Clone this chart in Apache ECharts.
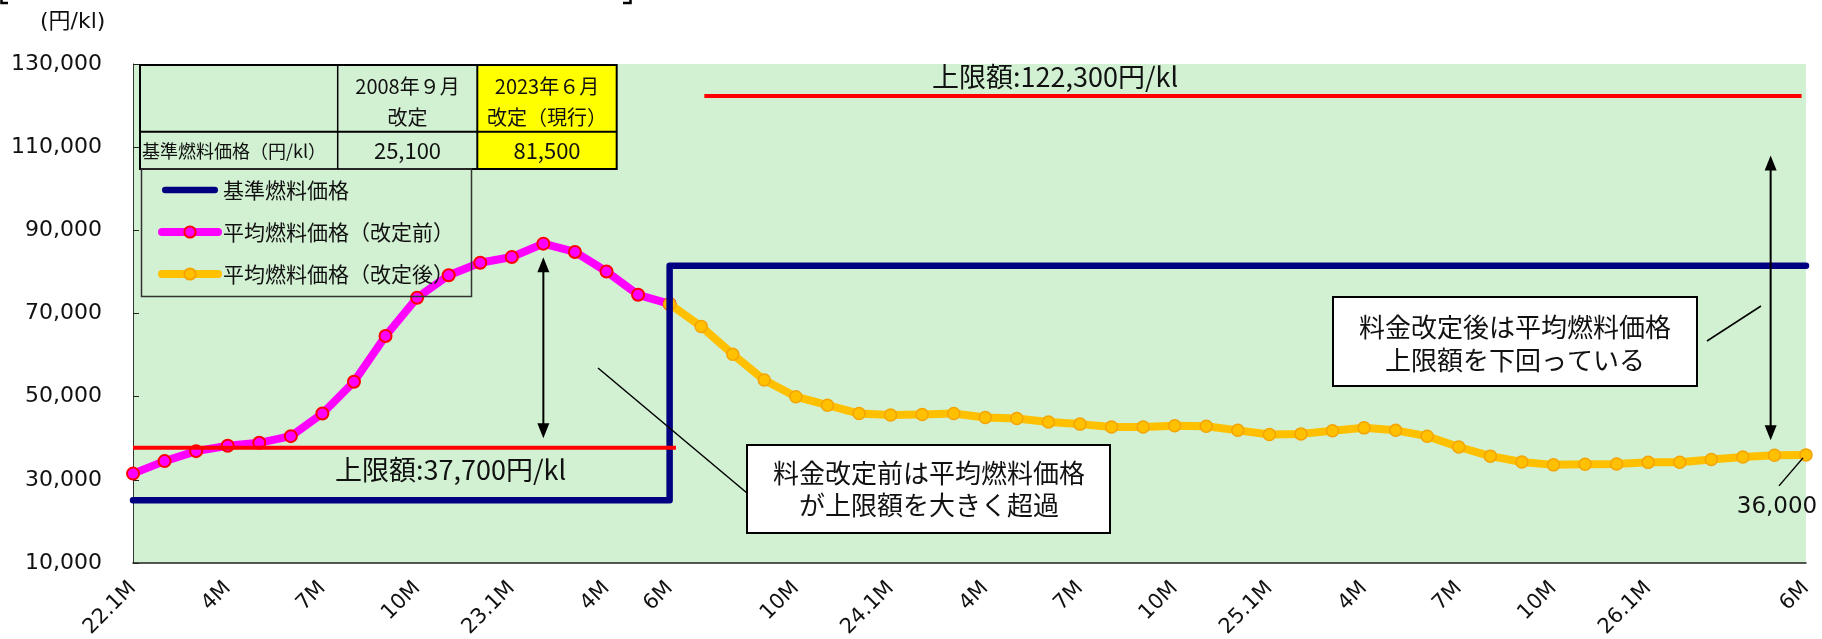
<!DOCTYPE html>
<html>
<head>
<meta charset="utf-8">
<script src="https://cdn.jsdelivr.net/npm/echarts@6/dist/echarts.min.js"></script>
<style>
  html, body { margin: 0; padding: 0; background: #ffffff; }
  #chart { width: 1822px; height: 639px; }
</style>
</head>
<body>
<div id="chart"></div>
<script>
// Month labels, Jan 2022 – Jun 2026 (blank = unlabeled month)
const monthLabels = [
  '22.1M', '', '', '4M', '', '', '7M', '', '', '10M', '', '',
  '23.1M', '', '', '4M', '', '6M', '', '', '', '10M', '', '',
  '24.1M', '', '', '4M', '', '', '7M', '', '', '10M', '', '',
  '25.1M', '', '', '4M', '', '', '7M', '', '', '10M', '', '',
  '26.1M', '', '', '', '', '6M'
];

// Average fuel price before the tariff revision (Jan 2022 – Jun 2023), 円/kl
const avgBefore = [
  31500, 34500, 36900, 38200, 38900, 40500, 45950, 53600, 64600, 73800, 79200, 82200,
  83600, 86800, 84800, 80100, 74500, 72300
];

// Average fuel price after the tariff revision (Jun 2023 – Jun 2026), 円/kl
const avgAfter = [
  72300, 66900, 60200, 54000, 50000, 47950, 45950,
  45600, 45700, 45950, 45000, 44750, 43900, 43400, 42700, 42700, 43000, 42900, 41900,
  40900, 41050, 41800, 42500, 41900, 40500, 37900, 35700, 34300, 33600, 33750, 33800,
  34200, 34250, 34900, 35500, 35900, 36000
];

// Month index of the June 2023 revision
const revisionIndex = 17;

// Reference fuel price: 2008/9 revision and 2023/6 revision (current)
const basePrices = [25100, 81500];
const revisionTitles = ['2008年９月\n改定', '2023年６月\n改定（現行）'];

// Upper limits of the fuel cost adjustment, before and after the revision
const capPrices = [37700, 122300];
const capSpans = [[0, 17.2], [18.1, 52.86]];

const yTicks = { min: 10000, max: 130000, step: 20000 };

const JP = '"Noto Sans CJK JP", sans-serif';
const NUM = '"DejaVu Sans", "Noto Sans CJK JP", sans-serif';
const fmt = v => Number(v).toLocaleString('en-US');

const lastIdx = monthLabels.length - 1;
const basePriceSteps = [
  [0, basePrices[0]], [revisionIndex, basePrices[0]],
  [revisionIndex, basePrices[1]], [lastIdx, basePrices[1]]
];

const chart = echarts.init(document.getElementById('chart'), null, { renderer: 'canvas' });

const lineSeries = (name, data, color, mark, z) => ({
  name, type: 'line', data, z,
  symbol: 'circle', symbolSize: 12, showSymbol: true,
  lineStyle: { color, width: 8, cap: 'round', join: 'round' },
  itemStyle: { color, borderColor: mark, borderWidth: mark === '#FF0000' ? 2 : 1.5 },
  emphasis: { disabled: true }, silent: true
});

const capSeries = (i) => ({
  name: '上限額' + i, type: 'line', z: 6, silent: true, symbol: 'none',
  data: [[capSpans[i][0], capPrices[i]], [capSpans[i][1], capPrices[i]]],
  lineStyle: { color: '#FF0000', width: 4 },
  emphasis: { disabled: true }
});

chart.setOption({
  animation: false,
  grid: {
    left: 133, right: 16, top: 64, bottom: 76,
    show: true, backgroundColor: '#D2F0D2', borderWidth: 0,
    containLabel: false, outerBoundsMode: 'none'
  },
  xAxis: {
    type: 'value', min: 0, max: lastIdx, interval: 1,
    axisLine: { onZero: false, lineStyle: { color: '#222', width: 1.5 } },
    axisTick: { show: false },
    splitLine: { show: false },
    axisLabel: {
      rotate: 45, margin: 22, fontSize: 21, fontFamily: NUM, color: '#111',
      showMinLabel: true, showMaxLabel: true,
      formatter: v => monthLabels[Math.round(v)] || ''
    }
  },
  yAxis: {
    type: 'value', min: yTicks.min, max: yTicks.max, interval: yTicks.step,
    axisLine: { show: true, onZero: false, lineStyle: { color: '#333', width: 1 } },
    axisTick: { show: true, inside: true, length: 6, lineStyle: { color: '#222' } },
    splitLine: { show: false },
    axisLabel: { margin: 31, fontSize: 22, fontFamily: NUM, color: '#111', formatter: fmt }
  },
  legend: {
    orient: 'vertical', left: 158, top: 179, padding: 0,
    itemWidth: 56, itemHeight: 14, itemGap: 20, selectedMode: false,
    data: [
      { name: '基準燃料価格', icon: 'path://M3.25,0H52.75A3.25,3.25,0,0,1,52.75,6.5H3.25A3.25,3.25,0,0,1,3.25,0Z' },
      '平均燃料価格（改定前）',
      '平均燃料価格（改定後）'
    ],
    lineStyle: { width: 'inherit' },
    textStyle: { fontSize: 21, fontFamily: JP, color: '#111', lineHeight: 22 }
  },
  series: [
    lineSeries('平均燃料価格（改定前）', avgBefore.map((v, i) => [i, v]), '#FF00FF', '#FF0000', 2),
    lineSeries('平均燃料価格（改定後）', avgAfter.map((v, i) => [i + revisionIndex, v]), '#FFC000', '#F5A300', 3),
    {
      name: '基準燃料価格', type: 'line', data: basePriceSteps, z: 4, silent: true,
      symbol: 'none',
      lineStyle: { color: '#000080', width: 6.5, join: 'round', cap: 'round' },
      itemStyle: { color: '#000080' },
      emphasis: { disabled: true }
    },
    capSeries(0),
    capSeries(1)
  ]
});

// ---- annotations ----
const px = (x, y) => chart.convertToPixel({ gridIndex: 0 }, [x, y]);

function vArrow(x, yTop, yBot) {
  const [cx, t] = px(x, yTop);
  const b = px(x, yBot)[1];
  const h = 15, w = 6;
  return [
    { type: 'line', z: 50, shape: { x1: cx, y1: t + h - 2, x2: cx, y2: b - h + 2 },
      style: { stroke: '#000', lineWidth: 2 } },
    { type: 'polygon', z: 50, shape: { points: [[cx, t], [cx - w, t + h], [cx + w, t + h]] },
      style: { fill: '#000' } },
    { type: 'polygon', z: 50, shape: { points: [[cx, b], [cx - w, b - h], [cx + w, b - h]] },
      style: { fill: '#000' } }
  ];
}

function text(str, x, y, size, family, align, lineHeight) {
  return {
    type: 'text', z: 60,
    style: {
      text: str, x, y, fill: '#111',
      font: size + 'px ' + family, fontSize: size, fontFamily: family,
      textAlign: align, align: align, textVerticalAlign: 'middle', verticalAlign: 'middle',
      lineHeight: lineHeight || size + 4
    }
  };
}

function seg(x1, y1, x2, y2, w, color) {
  return { type: 'line', z: 55, shape: { x1, y1, x2, y2 },
    style: { stroke: color || '#000', lineWidth: w || 1.5 } };
}

function box(x, y, w, h) {
  return { type: 'rect', z: 55, shape: { x, y, width: w, height: h },
    style: { fill: '#ffffff', stroke: '#000', lineWidth: 2 } };
}

const g = [];

// cropped heading brackets
g.push({ type: 'polyline', z: 60, shape: { points: [[1.5, 0], [1.5, 3], [8, 3]] },
  style: { stroke: '#000', lineWidth: 2.5, fill: null } });
g.push({ type: 'polyline', z: 60, shape: { points: [[623, 3], [630.5, 3], [630.5, 0]] },
  style: { stroke: '#000', lineWidth: 2.5, fill: null } });

// unit label
g.push(text('(円/kl)', 40, 22, 22, NUM, 'left'));

// revision table
const tx = [140, 337.7, 477.3, 616.7];
const ty = [65, 131.7, 169];
g.push({ type: 'rect', z: 40, shape: { x: tx[2], y: ty[0], width: tx[3] - tx[2], height: ty[2] - ty[0] },
  style: { fill: '#FFFF00' } });
g.push({ type: 'rect', z: 45, shape: { x: tx[0], y: ty[0], width: tx[3] - tx[0], height: ty[2] - ty[0] },
  style: { fill: null, stroke: '#000', lineWidth: 2 } });
g.push(seg(tx[0], ty[1], tx[3], ty[1], 2));
g.push(seg(tx[1], ty[0], tx[1], ty[2], 1.5));
g.push(seg(tx[2], ty[0], tx[2], ty[2], 2));
revisionTitles.forEach((t, i) => {
  const cx = (tx[i + 1] + tx[i + 2]) / 2;
  const lines = t.split('\n');
  g.push(text(lines[0], cx, 86, 20, JP, 'center'));
  g.push(text(lines[1], cx, 117, 20, JP, 'center'));
  g.push(text(fmt(basePrices[i]), cx, 151, 22, JP, 'center'));
});
g.push(text('基準燃料価格（円/kl）', 142, 151, 18, JP, 'left'));

// legend frame
g.push({ type: 'rect', z: 45, shape: { x: 141.5, y: 169, width: 330, height: 127.5 },
  style: { fill: null, stroke: '#333', lineWidth: 1.5 } });

// cap labels
const capOldY = px(0, capPrices[0])[1];
const capNewY = px(0, capPrices[1])[1];
g.push(text('上限額:' + fmt(capPrices[0]) + '円/kl', 335, capOldY + 22, 27, JP, 'left'));
g.push(text('上限額:' + fmt(capPrices[1]) + '円/kl', 932, capNewY - 19, 27, JP, 'left'));

// gap arrows
g.push(...vArrow(13, 83500, 40000));
g.push(...vArrow(51.88, 108000, 39500));

// callout: before the revision
g.push(seg(598, 368, 747, 493, 1.5));
g.push(box(747, 445, 363, 88));
g.push(text('料金改定前は平均燃料価格\nが上限額を大きく超過', 929, 489, 26, JP, 'center', 32));

// callout: after the revision
g.push(seg(1707, 341, 1761, 306, 1.5));
g.push(box(1333, 297, 364, 89));
g.push(text('料金改定後は平均燃料価格\n上限額を下回っている', 1515, 344, 26, JP, 'center', 33));

// latest value label
const lastVal = avgAfter[avgAfter.length - 1];
const [lx, ly] = px(lastIdx, lastVal);
g.push(seg(lx - 3, ly + 3, lx - 27, ly + 31, 1.5));
g.push(text(fmt(lastVal), lx - 29, ly + 52, 23, NUM, 'center'));

chart.setOption({ graphic: { elements: g } });
</script>
</body>
</html>
